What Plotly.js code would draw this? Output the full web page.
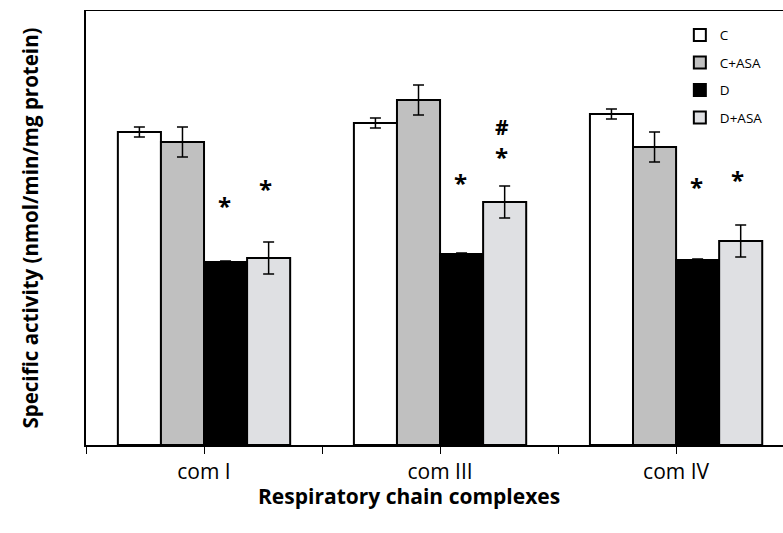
<!DOCTYPE html>
<html><head><meta charset="utf-8">
<script src="https://cdn.plot.ly/plotly-3.0.1.min.js"></script>
<style>html,body{margin:0;padding:0;background:#fff}#chart{width:783px;height:533px}</style>
</head><body><div id="chart"></div>
<script>
const categories = ['com I', 'com III', 'com IV'];
const seriesNames = ['C', 'C+ASA', 'D', 'D+ASA'];
const valuesC = [313, 322, 331];
const errC = [5, 5, 5];
const valuesCASA = [303, 345, 298];
const errCASA = [15, 15, 15];
const valuesD = [183, 191, 185];
const errD = [1, 1, 1];
const valuesDASA = [187, 243, 204];
const errDASA = [16, 16, 16];
// significance marks (above D and D+ASA bars) and their heights in data units
const sigD = ['*', '*', '*'];
const sigDLevel = [244, 267, 263];
const sigDASA = ['*', '*', '*'];
const sigDASALevel = [261, 293, 270];
const hashDASA = ['', '#', ''];
const hashDASALevel = [0, 318, 0];
const xTitle = 'Respiratory chain complexes';
const yTitle = 'Specific activity (nmol/min/mg protein)';

const FONT = '"Open Sans", "Noto Sans", sans-serif';
const colors = ['#ffffff', '#c0c0c0', '#000000', '#dfe0e3'];
const values = [valuesC, valuesCASA, valuesD, valuesDASA];
const errs = [errC, errCASA, errD, errDASA];
const bargap = 0.27;

const traces = seriesNames.map((name, i) => ({
  type: 'bar',
  name: name,
  x: categories,
  y: values[i],
  legendgroup: 'g' + i,
  marker: {color: colors[i], line: {color: '#000', width: 2}},
  error_y: {type: 'data', array: errs[i], visible: true, color: '#000', thickness: 1.5, width: 5.5},
  hoverinfo: 'skip'
}));

const groupW = 1 - bargap;
const barW = groupW / seriesNames.length;
const offsetOf = i => -groupW / 2 + barW * (i + 0.5);

const annotations = [];
function addMarks(marks, levels, seriesIdx, size, shift, xs, h) {
  marks.forEach((m, k) => {
    if (!m) return;
    const a = {
      xref: 'x', yref: 'y',
      x: k + offsetOf(seriesIdx), y: levels[k],
      text: m, showarrow: false,
      xanchor: 'center', yanchor: 'middle',
      yshift: shift, xshift: xs,
      font: {family: FONT, size: size, color: '#000', weight: 'bold'}
    };
    if (h) { a.height = h; a.valign = 'middle'; }
    annotations.push(a);
  });
}
addMarks(sigD, sigDLevel, 2, 24, -4, -1);
addMarks(sigDASA, sigDASALevel, 3, 24, -4, -3);
addMarks(hashDASA, hashDASALevel, 3, 21, 0, -3, 18);

// x-axis title (centred as in the original figure)
annotations.push({
  xref: 'paper', yref: 'paper', x: 0.4634, y: -0.1175,
  xanchor: 'center', yanchor: 'middle', showarrow: false,
  text: xTitle,
  font: {family: FONT, size: 21, color: '#000', weight: 'bold'}
});

const tickvals = [], ticktext = [];
categories.forEach((c, k) => {
  tickvals.push(k - 0.5, k); ticktext.push('', c);
});
tickvals.push(categories.length - 0.5); ticktext.push('');

const layout = {
  width: 783, height: 533,
  margin: {l: 86, r: 0, t: 11, b: 88},
  paper_bgcolor: '#fff', plot_bgcolor: '#fff',
  barmode: 'group', bargap: bargap, bargroupgap: 0,
  showlegend: true,
  legend: {
    x: 0.852, y: 0.98, xanchor: 'left', yanchor: 'top',
    font: {family: FONT, size: 13.5, color: '#000'},
    tracegroupgap: 7, bgcolor: 'rgba(0,0,0,0)'
  },
  xaxis: {
    type: 'category',
    range: [-0.5, 2.453],
    tickmode: 'array', tickvals: tickvals, ticktext: ticktext,
    ticks: 'outside', ticklen: 7, tickwidth: 1, tickcolor: '#000',
    showline: true, linecolor: '#000', linewidth: 1.5, mirror: true,
    showgrid: false, zeroline: false,
    tickfont: {family: FONT, size: 21, color: '#000'}
  },
  yaxis: {
    range: [0, 434],
    showline: true, linecolor: '#000', linewidth: 2, mirror: false,
    showticklabels: false, ticks: '', showgrid: false, zeroline: false,
    title: {text: yTitle, font: {family: FONT, size: 20.5, color: '#000', weight: 'bold'}, standoff: 40}
  },
  annotations: annotations
};

Plotly.newPlot('chart', traces, layout, {displayModeBar: false, staticPlot: true});
</script></body></html>
